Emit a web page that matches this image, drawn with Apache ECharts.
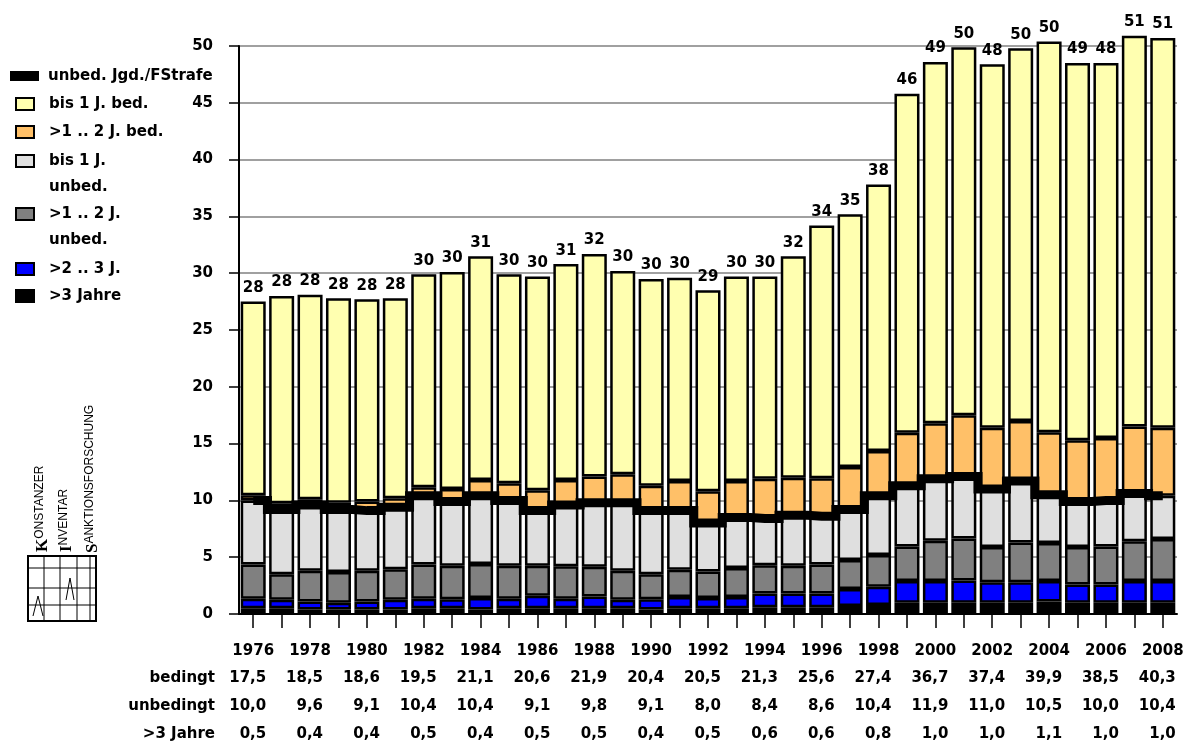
<!DOCTYPE html>
<html>
<head>
<meta charset="utf-8">
<title>Jugendstrafe 1976-2008</title>
<script src="https://cdn.jsdelivr.net/npm/echarts@6/dist/echarts.min.js"></script>
<style>
html, body { margin: 0; padding: 0; background: #fff; }
#chart { width: 1190px; height: 745px; }
</style>
</head>
<body>
<div id="chart"></div>
<script>
// Jahre (Kategorien)
var years = ['1976','1977','1978','1979','1980','1981','1982','1983','1984','1985','1986',
    '1987','1988','1989','1990','1991','1992','1993','1994','1995','1996','1997',
    '1998','1999','2000','2001','2002','2003','2004','2005','2006','2007','2008']

// Segmente von unten nach oben
var over3    = [0.5,0.5,0.4,0.4,0.4,0.4,0.5,0.5,0.4,0.5,0.5,0.5,0.5,0.5,0.4,0.5,0.5,0.5,0.6,0.6,0.6,0.7,0.8,1.0,1.0,1.0,1.0,1.0,1.1,1.0,1.0,1.0,1.0]
var y2to3    = [0.85,0.75,0.7,0.6,0.7,0.85,0.85,0.8,1.0,0.85,1.1,0.85,1.05,0.75,0.9,1.0,0.9,1.0,1.2,1.2,1.2,1.5,1.6,1.9,1.9,1.95,1.8,1.8,1.8,1.6,1.6,1.9,1.9]
var unbed1to2 = [3.0,2.25,2.7,2.7,2.7,2.7,3.0,2.95,3.0,2.9,2.65,2.85,2.6,2.55,2.2,2.4,2.35,2.55,2.5,2.45,2.55,2.55,2.8,3.05,3.55,3.7,3.1,3.5,3.35,3.3,3.35,3.5,3.7]
var unbedTo1 = [5.65,5.7,5.8,5.5,5.3,5.45,6.05,5.65,6.0,5.75,4.85,5.4,5.65,6.0,5.6,5.2,4.25,4.45,4.1,4.45,4.25,4.45,5.2,5.35,5.45,5.45,5.1,5.4,4.25,4.0,4.05,4.2,3.8]
var bed1to2  = [0.45,0.55,0.5,0.6,0.8,0.8,0.75,1.1,1.4,1.5,1.8,2.2,2.3,2.5,2.2,2.6,2.8,3.2,3.5,3.3,3.35,3.75,3.95,4.65,4.9,5.4,5.4,5.3,5.5,5.4,5.5,5.9,6.0]
var bedTo1   = [17.05,18.25,18.0,18.0,17.8,17.6,18.75,19.1,19.7,18.4,18.8,19.0,19.6,17.9,18.2,17.9,17.7,18.0,17.8,19.5,22.25,22.25,23.45,29.85,31.8,32.4,32.0,32.8,34.4,33.2,33.0,34.4,34.3]

// unbedingte Jugendstrafe gesamt (Linie)
var unbedTotal = [10.0,9.2,9.6,9.2,9.1,9.4,10.4,9.9,10.4,10.0,9.1,9.6,9.8,9.8,9.1,9.1,8.0,8.5,8.4,8.7,8.6,9.2,10.4,11.3,11.9,12.1,11.0,11.7,10.5,9.9,10.0,10.6,10.4]

// Summen über den Säulen
var totalLabels = [28,28,28,28,28,28,30,30,31,30,30,31,32,30,30,30,29,30,30,32,34,35,38,46,49,50,48,50,50,49,48,51,51]

// Tabelle unter der Grafik
var tableYears   = ['1976','1978','1980','1982','1984','1986','1988','1990','1992','1994','1996','1998','2000','2002','2004','2006','2008']
var tabBedingt   = [17.5,18.5,18.6,19.5,21.1,20.6,21.9,20.4,20.5,21.3,25.6,27.4,36.7,37.4,39.9,38.5,40.3]
var tabUnbedingt = [10.0,9.6,9.1,10.4,10.4,9.1,9.8,9.1,8.0,8.4,8.6,10.4,11.9,11.0,10.5,10.0,10.4]
var tabOver3     = [0.5,0.4,0.4,0.5,0.4,0.5,0.5,0.4,0.5,0.6,0.6,0.8,1.0,1.0,1.1,1.0,1.0]

var FONT = 'DejaVu Sans'
var FS = 15

function fmt(v) {
    return v.toFixed(1).replace('.', ',')
}

function tableAxis(name, values, offset) {
    return {
        type: 'category',
        data: years,
        position: 'bottom',
        offset: offset,
        name: name,
        nameLocation: 'start',
        nameGap: 24,
        nameTextStyle: { color: '#000', fontWeight: 'bold', fontSize: FS, fontFamily: FONT, align: 'right', verticalAlign: 'top' },
        axisLine: { show: false, onZero: false },
        axisTick: { show: false },
        splitLine: { show: false },
        axisLabel: {
            interval: 0,
            margin: 0,
            formatter: function (value) {
                var i = tableYears.indexOf(value)
                if (i < 0) return ''
                return '{v|' + fmt(values[i]) + '}'
            },
            rich: {
                v: { width: 26, align: 'right', color: '#000', fontWeight: 'bold', fontSize: FS, fontFamily: FONT }
            }
        }
    }
}

function barSeries(name, data, color) {
    return {
        name: name,
        type: 'bar',
        stack: 'gesamt',
        data: data,
        barCategoryGap: '12%',
        clip: false,
        itemStyle: { color: color, borderColor: '#000', borderWidth: 2.5 },
        emphasis: { disabled: true }
    }
}

var legendText = { color: '#000', fontWeight: 'bold', fontSize: FS, fontFamily: FONT, lineHeight: 26 }
function legendBox(names, top, extra) {
    var lg = {
        data: names,
        icon: 'rect',
        orient: 'vertical',
        left: 15,
        top: top,
        padding: 0,
        itemWidth: 18,
        itemHeight: 12,
        itemGap: 2,
        selectedMode: false,
        textStyle: Object.assign({}, legendText, { padding: [0, 0, 0, 10] })
    }
    return Object.assign(lg, extra || {})
}
// zweizeilige Legende: leere erste Zeile, damit das Symbol auf Höhe der ersten Textzeile steht
function twoLines(n) {
    return '\n' + n.replace(' unbed.', '\nunbed.')
}

var chart = echarts.init(document.getElementById('chart'))

var yellowSeries = barSeries('bis 1 J. bed.', bedTo1, '#FFFFB0')
yellowSeries.label = {
    show: true,
    position: 'top',
    distance: 6,
    color: '#000',
    fontWeight: 'bold',
    fontSize: FS,
    fontFamily: FONT,
    formatter: function (p) { return totalLabels[p.dataIndex] }
}

var option = {
    animation: false,
    backgroundColor: '#fff',
    textStyle: { fontFamily: FONT },
    grid: { left: 239, right: 13, top: 46, bottom: 131, outerBoundsMode: 'none' },
    legend: [
        {
            data: [{ name: 'unbed. Jgd./FStrafe', icon: 'rect' }],
            orient: 'vertical', left: 10, top: 63, padding: 0,
            itemWidth: 29, itemHeight: 10, selectedMode: false,
            textStyle: Object.assign({}, legendText, { padding: [0, 0, 0, 4] })
        },
        legendBox(['bis 1 J. bed.', '>1 .. 2 J. bed.'], 91),
        legendBox(['bis 1 J. unbed.'], 122, { formatter: twoLines }),
        legendBox(['>1 .. 2 J. unbed.'], 175, { formatter: twoLines }),
        legendBox(['>2 .. 3 J.', '>3 Jahre'], 256, { itemGap: 1 })
    ],
    xAxis: [
        {
            type: 'category',
            data: years,
            position: 'bottom',
            axisLine: { show: true, onZero: false, lineStyle: { color: '#000', width: 2 } },
            axisTick: { show: true, alignWithLabel: true, interval: 0, length: 14, lineStyle: { color: '#000', width: 1.5 } },
            axisLabel: { interval: 1, margin: 30, color: '#000', fontWeight: 'bold', fontSize: FS, fontFamily: FONT },
            splitLine: { show: false }
        },
        tableAxis('bedingt', tabBedingt, 57),
        tableAxis('unbedingt', tabUnbedingt, 85),
        tableAxis('>3 Jahre', tabOver3, 113)
    ],
    yAxis: {
        type: 'value',
        min: 0,
        max: 50,
        interval: 5,
        axisLine: { show: true, lineStyle: { color: '#000', width: 2 } },
        axisTick: { show: true, length: 10, lineStyle: { color: '#000', width: 1.5 } },
        axisLabel: { margin: 26, color: '#000', fontWeight: 'bold', fontSize: FS, fontFamily: FONT },
        splitLine: { show: true, lineStyle: { color: '#808080', width: 1.5 } }
    },
    series: [
        barSeries('>3 Jahre', over3, '#000000'),
        barSeries('>2 .. 3 J.', y2to3, '#0000FF'),
        barSeries('>1 .. 2 J. unbed.', unbed1to2, '#808080'),
        barSeries('bis 1 J. unbed.', unbedTo1, '#DFDFDF'),
        barSeries('>1 .. 2 J. bed.', bed1to2, '#FFC068'),
        yellowSeries,
        {
            name: 'unbed. Jgd./FStrafe',
            type: 'line',
            data: unbedTotal,
            step: 'middle',
            symbol: 'none',
            z: 5,
            itemStyle: { color: '#000' },
            lineStyle: { color: '#000', width: 9, cap: 'butt', join: 'miter' },
            emphasis: { disabled: true }
        }
    ],
    graphic: [
        // Logo Konstanzer Inventar Sanktionsforschung
        {
            type: 'text', x: 51, y: 552, rotation: Math.PI / 2,
            style: {
                text: '{b|K}{s|ONSTANZER}', align: 'left', verticalAlign: 'bottom',
                rich: {
                    b: { fontFamily: 'Liberation Serif', fontWeight: 'bold', fontSize: 17, fill: '#000' },
                    s: { fontFamily: 'Liberation Sans', fontSize: 12, fill: '#000', verticalAlign: 'top' }
                }
            }
        },
        {
            type: 'text', x: 75, y: 552, rotation: Math.PI / 2,
            style: {
                text: '{b|I}{s|NVENTAR}', align: 'left', verticalAlign: 'bottom',
                rich: {
                    b: { fontFamily: 'Liberation Serif', fontWeight: 'bold', fontSize: 17, fill: '#000' },
                    s: { fontFamily: 'Liberation Sans', fontSize: 12, fill: '#000', verticalAlign: 'top' }
                }
            }
        },
        {
            type: 'text', x: 101, y: 553, rotation: Math.PI / 2,
            style: {
                text: '{b|S}{s|ANKTIONSFORSCHUNG}', align: 'left', verticalAlign: 'bottom',
                rich: {
                    b: { fontFamily: 'Liberation Serif', fontWeight: 'bold', fontSize: 17, fill: '#000' },
                    s: { fontFamily: 'Liberation Sans', fontSize: 12, fill: '#000', verticalAlign: 'top' }
                }
            }
        },
        { type: 'rect', shape: { x: 28, y: 556, width: 68, height: 65 }, style: { fill: 'none', stroke: '#000', lineWidth: 2 } },
        { type: 'line', shape: { x1: 28, y1: 568, x2: 96, y2: 568 }, style: { stroke: '#000', lineWidth: 1 } },
        { type: 'line', shape: { x1: 28, y1: 588, x2: 96, y2: 588 }, style: { stroke: '#000', lineWidth: 1 } },
        { type: 'line', shape: { x1: 28, y1: 605, x2: 96, y2: 605 }, style: { stroke: '#000', lineWidth: 1 } },
        { type: 'line', shape: { x1: 44, y1: 556, x2: 44, y2: 621 }, style: { stroke: '#000', lineWidth: 1 } },
        { type: 'line', shape: { x1: 60, y1: 556, x2: 60, y2: 621 }, style: { stroke: '#000', lineWidth: 1 } },
        { type: 'line', shape: { x1: 77, y1: 556, x2: 77, y2: 621 }, style: { stroke: '#000', lineWidth: 1 } },
        { type: 'line', shape: { x1: 90, y1: 556, x2: 90, y2: 621 }, style: { stroke: '#000', lineWidth: 1 } },
        { type: 'polyline', shape: { points: [[66, 600], [70, 578], [74, 600]] }, style: { fill: 'none', stroke: '#000', lineWidth: 1 } },
        { type: 'polyline', shape: { points: [[33, 616], [38, 596], [43, 616]] }, style: { fill: 'none', stroke: '#000', lineWidth: 1 } }
    ]
}

chart.setOption(option)
</script>
</body>
</html>
